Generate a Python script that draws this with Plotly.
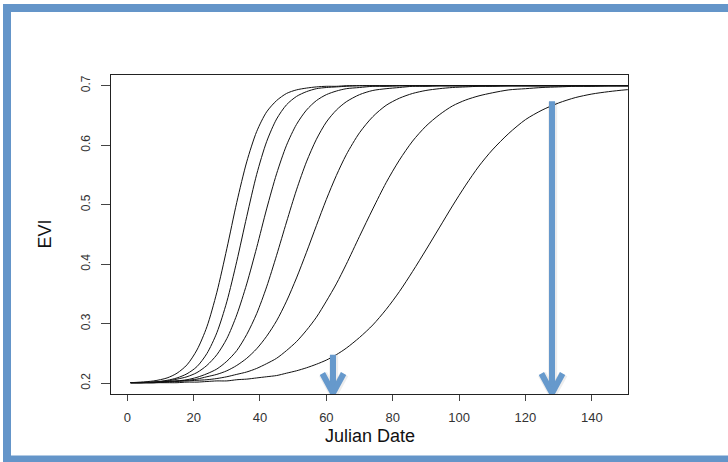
import plotly.graph_objects as go

# Julian day sample points shared by every curve
days = [1, 4, 8, 12, 15, 18, 21, 24, 27, 30, 33, 36, 39, 42, 45, 48, 51, 54, 57, 60,
        63, 66, 70, 74, 78, 82, 86, 90, 94, 98, 102, 106, 110, 115, 120, 125, 130,
        135, 140, 145, 150, 155]

# EVI green-up curves, earliest to latest
evi_1 = [0.201, 0.202, 0.204, 0.209, 0.217, 0.231, 0.256, 0.295, 0.353, 0.426, 0.504,
         0.572, 0.623, 0.656, 0.675, 0.687, 0.693, 0.696, 0.698, 0.699, 0.699, 0.700,
         0.700, 0.700, 0.700, 0.700, 0.700, 0.700, 0.700, 0.700, 0.700, 0.700, 0.700,
         0.700, 0.700, 0.700, 0.700, 0.700, 0.700, 0.700, 0.700, 0.700]
evi_2 = [0.201, 0.201, 0.202, 0.205, 0.209, 0.216, 0.228, 0.250, 0.285, 0.337, 0.405,
         0.480, 0.551, 0.606, 0.644, 0.668, 0.682, 0.690, 0.695, 0.697, 0.698, 0.699,
         0.700, 0.700, 0.700, 0.700, 0.700, 0.700, 0.700, 0.700, 0.700, 0.700, 0.700,
         0.700, 0.700, 0.700, 0.700, 0.700, 0.700, 0.700, 0.700, 0.700]
evi_3 = [0.201, 0.201, 0.202, 0.204, 0.207, 0.211, 0.218, 0.230, 0.248, 0.275, 0.315,
         0.367, 0.428, 0.493, 0.552, 0.600, 0.635, 0.659, 0.675, 0.685, 0.691, 0.695,
         0.697, 0.699, 0.699, 0.700, 0.700, 0.700, 0.700, 0.700, 0.700, 0.700, 0.700,
         0.700, 0.700, 0.700, 0.700, 0.700, 0.700, 0.700, 0.700, 0.700]
evi_4 = [0.201, 0.201, 0.201, 0.203, 0.204, 0.206, 0.210, 0.216, 0.224, 0.237, 0.255,
         0.282, 0.317, 0.362, 0.415, 0.471, 0.525, 0.572, 0.610, 0.639, 0.659, 0.673,
         0.685, 0.692, 0.695, 0.697, 0.699, 0.699, 0.700, 0.700, 0.700, 0.700, 0.700,
         0.700, 0.700, 0.700, 0.700, 0.700, 0.700, 0.700, 0.700, 0.700]
evi_5 = [0.201, 0.201, 0.202, 0.203, 0.204, 0.205, 0.207, 0.211, 0.215, 0.221, 0.230,
         0.242, 0.258, 0.279, 0.305, 0.338, 0.377, 0.420, 0.465, 0.509, 0.549, 0.584,
         0.621, 0.648, 0.667, 0.679, 0.687, 0.692, 0.695, 0.697, 0.698, 0.699, 0.699,
         0.700, 0.700, 0.700, 0.700, 0.700, 0.700, 0.700, 0.700, 0.700]
evi_6 = [0.201, 0.201, 0.201, 0.202, 0.203, 0.204, 0.205, 0.206, 0.208, 0.211, 0.215,
         0.219, 0.225, 0.233, 0.242, 0.255, 0.270, 0.289, 0.311, 0.338, 0.367, 0.400,
         0.447, 0.493, 0.537, 0.575, 0.607, 0.632, 0.651, 0.666, 0.676, 0.683, 0.688,
         0.693, 0.695, 0.697, 0.698, 0.699, 0.699, 0.700, 0.700, 0.700]
evi_7 = [0.201, 0.201, 0.201, 0.201, 0.201, 0.202, 0.202, 0.203, 0.204, 0.204, 0.206,
         0.207, 0.209, 0.211, 0.213, 0.217, 0.221, 0.226, 0.232, 0.239, 0.248, 0.259,
         0.277, 0.298, 0.324, 0.354, 0.388, 0.424, 0.461, 0.498, 0.533, 0.565, 0.592,
         0.620, 0.643, 0.659, 0.671, 0.680, 0.686, 0.690, 0.693, 0.695]

x_ticks = [0, 20, 40, 60, 80, 100, 120, 140]
y_ticks = [0.2, 0.3, 0.4, 0.5, 0.6, 0.7]
y_tick_text = ["0.2", "0.3", "0.4", "0.5", "0.6", "0.7"]

# Highlight arrows: day, top of shaft, and tip level (EVI units)
arrow_days = [62, 128]
arrow_tops = [0.248, 0.674]
arrow_tip = 0.1835

W, H = 728, 462
ML, MR, MT, MB = 111, 100, 75, 68
PW, PH = W - ML - MR, H - MT - MB

FONT = "Liberation Sans, Arial, Helvetica, sans-serif"
BLUE_FRAME = "#6495c9"
BLUE_ARROW = "#6699cc"


def xp(px):
    return (px - ML) / PW


def yp(py):
    return (H - MB - py) / PH


fig = go.Figure()

for series in [evi_1, evi_2, evi_3, evi_4, evi_5, evi_6, evi_7]:
    fig.add_trace(go.Scatter(
        x=days, y=series, mode="lines",
        line=dict(color="#111111", width=1, shape="spline", smoothing=0.8),
        hoverinfo="skip", showlegend=False,
    ))

head_dx = 3.2
head_dy = 0.033
for d, top in zip(arrow_days, arrow_tops):
    ax = [d, d, None, d - head_dx, d, d + head_dx]
    ay = [top, arrow_tip + 0.004, None, arrow_tip + head_dy, arrow_tip, arrow_tip + head_dy]
    # faint halo under the arrow
    fig.add_trace(go.Scatter(
        x=[v + 0.2 if v is not None else None for v in ax],
        y=[v - 0.001 if v is not None else None for v in ay],
        mode="lines", line=dict(color="rgba(0,0,0,0.07)", width=9),
        hoverinfo="skip", showlegend=False,
    ))
    fig.add_trace(go.Scatter(
        x=ax, y=ay, mode="lines", line=dict(color=BLUE_ARROW, width=6),
        hoverinfo="skip", showlegend=False,
    ))

# Blue frame around the figure (top, left, bottom bands)
frame_rects = [(3, 740, 4, 12), (3, 11, 4, 470), (3, 740, 455.5, 470)]
for x0, x1, y0, y1 in frame_rects:
    fig.add_shape(type="rect", xref="paper", yref="paper",
                  x0=xp(x0), x1=xp(x1), y0=yp(y1), y1=yp(y0),
                  fillcolor=BLUE_FRAME, line=dict(width=0), layer="above")

fig.add_annotation(text="Julian Date", xref="paper", yref="paper",
                   x=0.5, y=yp(436), xanchor="center", yanchor="middle",
                   showarrow=False, font=dict(family=FONT, size=18, color="#111"))
fig.add_annotation(text="EVI", xref="paper", yref="paper",
                   x=xp(44.5), y=yp(234), xanchor="center", yanchor="middle",
                   textangle=-90, showarrow=False,
                   font=dict(family=FONT, size=18, color="#111"))

fig.update_layout(
    width=W, height=H, autosize=False,
    margin=dict(l=ML, r=MR, t=MT, b=MB),
    paper_bgcolor="white", plot_bgcolor="white",
    font=dict(family=FONT),
    showlegend=False,
    xaxis=dict(
        range=[-4.9, 150.9], tickvals=x_ticks, ticks="outside", ticklen=6,
        tickwidth=1, tickcolor="#444", showline=True, mirror=True,
        linecolor="#222", linewidth=1, showgrid=False, zeroline=False,
        tickfont=dict(family=FONT, size=13, color="#333"), ticklabelstandoff=5,
    ),
    yaxis=dict(
        range=[0.182, 0.718], tickvals=y_ticks, ticktext=y_tick_text,
        tickangle=-90, ticks="outside", ticklen=9, tickwidth=1, tickcolor="#444",
        showline=True, mirror=True, linecolor="#222", linewidth=1,
        showgrid=False, zeroline=False,
        tickfont=dict(family=FONT, size=12, color="#333"), ticklabelstandoff=6,
    ),
)

fig.write_html("out.html")
